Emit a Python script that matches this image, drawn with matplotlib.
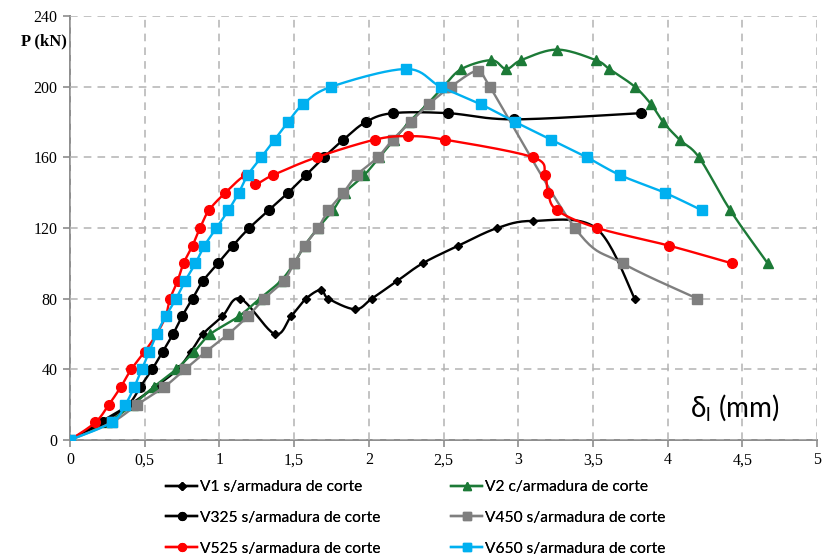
import matplotlib; matplotlib.use("Agg")
import matplotlib.pyplot as plt
from matplotlib.lines import Line2D
import numpy as np

# load-deflection data, delta_l (mm) vs P (kN)
v1_x = [0, 0.2, 0.4, 0.57, 0.72, 0.81, 0.89, 1.02, 1.14, 1.37, 1.48, 1.58, 1.68, 1.73, 1.91, 2.02,
        2.19, 2.36, 2.6, 2.86, 3.1, 3.52, 3.78]
v1_y = [0, 10, 20, 30, 40, 50, 60, 70, 80, 60, 70, 80, 85, 80, 74, 80,
        90, 100, 110, 120, 124, 120, 80]

v2_x = [0, 0.25, 0.42, 0.56, 0.71, 0.83, 0.94, 1.13, 1.27, 1.41, 1.5, 1.57, 1.66, 1.76, 1.84, 1.97,
        2.07, 2.17, 2.27, 2.39, 2.5, 2.62, 2.82, 2.92, 3.02, 3.26, 3.52, 3.61, 3.78, 3.89, 3.97,
        4.08, 4.21, 4.42, 4.67]
v2_y = [0, 10, 20, 30, 40, 50, 60, 70, 80, 90, 100, 110, 120, 130, 140, 150,
        160, 170, 180, 190, 200, 210, 215, 210, 215, 221, 215, 210, 200, 190, 180,
        170, 160, 130, 100]

v325_x = [0, 0.22, 0.39, 0.47, 0.55, 0.62, 0.69, 0.75, 0.82, 0.89, 0.99, 1.09, 1.2, 1.33, 1.46,
          1.58, 1.7, 1.83, 1.98, 2.16, 2.53, 2.97, 3.82]
v325_y = [0, 10, 20, 30, 40, 50, 60, 70, 80, 90, 100, 110, 120, 130, 140,
          150, 160, 170, 180, 185, 185, 181.5, 185]

v450_x = [0, 0.28, 0.45, 0.63, 0.77, 0.91, 1.06, 1.19, 1.3, 1.43, 1.5, 1.57, 1.66, 1.73, 1.83,
          1.92, 2.06, 2.16, 2.28, 2.4, 2.55, 2.73, 2.81, 3.38, 3.7, 4.2]
v450_y = [0, 10, 20, 30, 40, 50, 60, 70, 80, 90, 100, 110, 120, 130, 140,
          150, 160, 170, 180, 190, 200, 209, 200, 120, 100, 80]

v525_x = [0, 0.17, 0.26, 0.34, 0.41, 0.5, 0.58, 0.64, 0.67, 0.72, 0.76, 0.82, 0.87, 0.93, 1.04,
          1.18, 1.24, 1.36, 1.65, 2.04, 2.26, 2.51, 3.1, 3.18, 3.2, 3.26, 3.53, 4.01, 4.43]
v525_y = [0, 10, 20, 30, 40, 50, 60, 70, 80, 90, 100, 110, 120, 130, 140,
          150, 145, 150, 160, 170, 172, 170, 160, 150, 140, 130, 120, 110, 100]

v650_x = [0, 0.28, 0.37, 0.43, 0.48, 0.53, 0.58, 0.64, 0.71, 0.77, 0.84, 0.9, 0.98, 1.06, 1.13,
          1.19, 1.28, 1.37, 1.46, 1.56, 1.75, 2.25, 2.48, 2.75, 2.98, 3.22, 3.46, 3.68, 3.98, 4.23]
v650_y = [0, 10, 20, 30, 40, 50, 60, 70, 80, 90, 100, 110, 120, 130, 140,
          150, 160, 170, 180, 190, 200, 210, 200, 190, 180, 170, 160, 150, 140, 130]

labels = ["V1 s/armadura de corte", "V2 c/armadura de corte", "V325 s/armadura de corte",
          "V450 s/armadura de corte", "V525 s/armadura de corte", "V650 s/armadura de corte"]

series = [(v1_x, v1_y, "black", "D", 4.5),
          (v2_x, v2_y, "#1C7A37", "^", 7),
          (v325_x, v325_y, "black", "o", 7),
          (v450_x, v450_y, "#7F7F7F", "s", 6.5),
          (v525_x, v525_y, "#FF0000", "o", 7),
          (v650_x, v650_y, "#00B0F0", "s", 6.5)]


def smooth(xs, ys, n=24):
    # bezier through the points, spreadsheet-style smoothed line
    p = np.column_stack([xs, ys]).astype(float)
    out = [p[0]]
    t = np.linspace(0, 1, n)[1:, None]
    for i in range(len(p) - 1):
        p0 = p[i - 1] if i > 0 else p[i]
        p3 = p[i + 2] if i + 2 < len(p) else p[i + 1]
        c1 = p[i] + (p[i + 1] - p0) / 6
        c2 = p[i + 1] - (p3 - p[i]) / 6
        seg = (1 - t)**3 * p[i] + 3 * (1 - t)**2 * t * c1 + 3 * (1 - t) * t**2 * c2 + t**3 * p[i + 1]
        out.extend(seg)
    return np.array(out)


fig = plt.figure(figsize=(8.22, 5.58), dpi=100)
ax = fig.add_axes([70 / 822, 118 / 558, 747 / 822, 424 / 558])

handles = []
for k, (x, y, c, m, ms) in enumerate(series):
    s = smooth(x, y)
    ax.plot(s[:, 0], s[:, 1], color=c, lw=1.7, zorder=2 + k, solid_capstyle="round")
    ax.plot(x, y, ls="none", marker=m, ms=ms, color=c, mec=c, zorder=2 + k)
    handles.append(Line2D([], [], color=c, lw=1.7, marker=m, ms=ms * 0.8, mec=c))

ax.set_xlim(0, 5)
ax.set_ylim(0, 240)
ax.set_xticks(np.arange(0, 5.01, 0.5))
ax.set_xticklabels(["0", "0,5", "1", "1,5", "2", "2,5", "3", "3,5", "4", "4,5", "5"])
ax.set_yticks(np.arange(0, 241, 40))
ax.grid(True, ls=(0, (5, 4)), color="#B3B3B3", lw=1.1, zorder=0)
for sp in ("top", "right"):
    ax.spines[sp].set_visible(False)
for sp in ("left", "bottom"):
    ax.spines[sp].set_color("#8C8C8C")
    ax.spines[sp].set_linewidth(1.4)
    ax.spines[sp].set_zorder(1)
ax.tick_params(direction="out", length=5, width=1.2, color="#8C8C8C", pad=4)
for lb in ax.get_xticklabels() + ax.get_yticklabels():
    lb.set_fontfamily("Liberation Serif")
    lb.set_fontsize(11.5)

ax.text(-0.004, 0.939, "P (kN)", transform=ax.transAxes, ha="right", va="center",
        fontsize=12, fontweight="bold", family="Liberation Serif")
ax.text(4.15, 18, r"δ$_\mathregular{l}$ (mm)", ha="left", va="center", fontsize=20, family="Lato")

# two legend columns placed side by side under the axes
leg_kw = dict(loc="upper left", frameon=False, prop={"family": "Lato", "size": 11.2},
              handlelength=2.0, handletextpad=0.2, labelspacing=1.08, borderaxespad=0,
              borderpad=0)
for col, x0 in ((0, 166), (1, 451)):
    idx = [col, col + 2, col + 4]
    lg = fig.legend([handles[i] for i in idx], [labels[i] for i in idx],
                    bbox_to_anchor=(x0 / 822, 1 - 480 / 558), **leg_kw)
    fig.add_artist(lg)

fig.savefig("out.png", dpi=100)
